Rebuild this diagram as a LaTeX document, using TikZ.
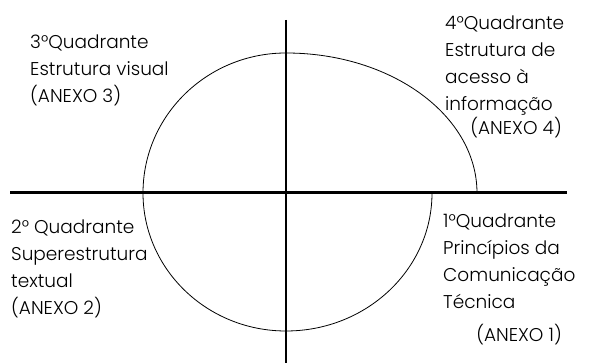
\documentclass[tikz,border=0pt]{standalone}
\usepackage{fontspec}
\setmainfont{Poppins}[UprightFont=* Light]
\usetikzlibrary{positioning}

\tikzset{
  axis/.style={black, line width=3pt},
  quarter/.style={black, line width=0.8pt},
  quadlabel/.style={align=left, inner sep=0pt, anchor=north west,
    font=\fontsize{18.5}{27}\selectfont},
  anexo/.style={inner sep=0pt, anchor=base east, font=\fontsize{18.5}{27}\selectfont},
}

\begin{document}
\begin{tikzpicture}[x=1pt,y=1pt]
  \useasboundingbox (0,0) rectangle (591,363);
  % axes
  \coordinate (O) at (286,170);
  \coordinate (W) at (10,170);
  \coordinate (E) at (567,170);
  \coordinate (N) at (286,343);
  \coordinate (S) at (286,0);
  \draw [axis] (W) -- (E);
  \draw [black, line width=2pt] (N) -- (S);
  % quarter ellipses
  \coordinate (L) at (143,170);
  \draw [quarter] (L) arc [start angle=180, end angle=90, x radius=143pt, y radius=140pt] coordinate (T)
    arc [start angle=90, end angle=0, x radius=191pt, y radius=140pt];
  \draw [quarter] (L) arc [start angle=180, end angle=270, x radius=143pt, y radius=138pt] coordinate (B)
    arc [start angle=270, end angle=360, x radius=146pt, y radius=138pt];
  % labels
  \node [quadlabel] (q3) at (30,328) {3°Quadrante\\Estrutura visual\\(ANEXO 3)};
  \node [quadlabel] (q2) at (11,143) {2° Quadrante\\Superestrutura\\textual\\(ANEXO 2)};
  \node [quadlabel] (q4) at (445,347) {4°Quadrante\\Estrutura de\\acesso à\\informação};
  \node [anexo] (a4) at (562,228) {(ANEXO 4)};
  \node [quadlabel] (q1) at (443,149) {1°Quadrante\\Princípios da\\Comunicação\\Técnica};
  \node [anexo] (a1) at (562,21) {(ANEXO 1)};
\end{tikzpicture}
\end{document}
